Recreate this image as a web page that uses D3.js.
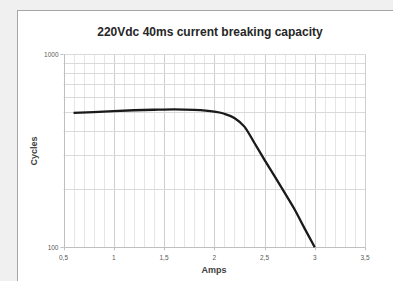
<!DOCTYPE html>
<html>
<head>
<meta charset="utf-8">
<script src="https://cdn.jsdelivr.net/npm/d3@7"></script>
<style>
body { margin: 0; background: #f0f0f0; }
svg { display: block; }
</style>
</head>
<body>
<div id="chart"></div>
<script>
// values
var amps = [0.6, 0.8, 1.0, 1.2, 1.4, 1.6, 1.8, 2.0, 2.1, 2.2, 2.3, 2.4, 2.5, 2.6, 2.7, 2.8, 2.9, 3.0];
var cycles = [497, 502, 508, 513, 516, 518, 515, 504, 492, 468, 422, 347, 284, 234, 192, 157, 125, 100];
var xTicks = [0.5, 1, 1.5, 2, 2.5, 3, 3.5];
var xTickLabels = ["0,5", "1", "1,5", "2", "2,5", "3", "3,5"];
var yTicks = [100, 1000];
var yGrid = [100, 200, 300, 400, 500, 600, 700, 800, 900, 1000];

var width = 393, height = 281;
var plotLeft = 63.5, plotRight = 365, plotTop = 54.3, plotBottom = 247.3;

var svg = d3.select("#chart").append("svg")
	.attr("width", width)
	.attr("height", height);

// white chart box
svg.append("rect")
	.attr("x", 17.5).attr("y", 10.5)
	.attr("width", width).attr("height", height)
	.attr("fill", "#ffffff")
	.attr("stroke", "#a6a6a6")
	.attr("stroke-width", 1);

var x = d3.scaleLinear().domain([0.5, 3.5]).range([plotLeft, plotRight]);
var y = d3.scaleLog().domain([100, 1000]).range([plotBottom, plotTop]);

// vertical grid every 0.1
var xMinor = d3.range(5, 36).map(function(d) { return d / 10; });
svg.selectAll(".vgrid")
	.data(xMinor)
	.enter()
	.append("line")
	.attr("class", "vgrid")
	.attr("x1", function(d) { return Math.round(x(d)) + 0.5; })
	.attr("x2", function(d) { return Math.round(x(d)) + 0.5; })
	.attr("y1", plotTop)
	.attr("y2", plotBottom)
	.attr("stroke", function(d) { return Math.abs(d * 2 - Math.round(d * 2)) < 1e-6 ? "#cfcfcf" : "#e6e6e6"; })
	.attr("stroke-width", 1);

// horizontal grid
svg.selectAll(".hgrid")
	.data(yGrid)
	.enter()
	.append("line")
	.attr("class", "hgrid")
	.attr("x1", plotLeft)
	.attr("x2", plotRight)
	.attr("y1", function(d) { return Math.round(y(d)) + 0.5; })
	.attr("y2", function(d) { return Math.round(y(d)) + 0.5; })
	.attr("stroke", "#dadada")
	.attr("stroke-width", 1);

// axes lines
svg.append("line")
	.attr("x1", plotLeft).attr("x2", plotRight)
	.attr("y1", Math.round(plotBottom) + 0.5).attr("y2", Math.round(plotBottom) + 0.5)
	.attr("stroke", "#bfbfbf");
svg.append("line")
	.attr("x1", Math.round(plotLeft) + 0.5).attr("x2", Math.round(plotLeft) + 0.5)
	.attr("y1", plotTop).attr("y2", plotBottom)
	.attr("stroke", "#bfbfbf");

// x ticks and labels
svg.selectAll(".xtick")
	.data(xTicks)
	.enter()
	.append("line")
	.attr("x1", function(d) { return Math.round(x(d)) + 0.5; })
	.attr("x2", function(d) { return Math.round(x(d)) + 0.5; })
	.attr("y1", plotBottom)
	.attr("y2", plotBottom + 3)
	.attr("stroke", "#bfbfbf");

svg.selectAll(".xlabel")
	.data(xTicks)
	.enter()
	.append("text")
	.attr("x", function(d) { return x(d); })
	.attr("y", 260)
	.attr("text-anchor", "middle")
	.attr("font-family", "Liberation Sans, Arial, sans-serif")
	.attr("font-size", 6.5)
	.attr("fill", "#595959")
	.text(function(d, i) { return xTickLabels[i]; });

// y ticks and labels
svg.selectAll(".ytick")
	.data(yTicks)
	.enter()
	.append("line")
	.attr("x1", plotLeft - 3)
	.attr("x2", plotLeft)
	.attr("y1", function(d) { return Math.round(y(d)) + 0.5; })
	.attr("y2", function(d) { return Math.round(y(d)) + 0.5; })
	.attr("stroke", "#bfbfbf");

svg.selectAll(".ylabel")
	.data(yTicks)
	.enter()
	.append("text")
	.attr("x", plotLeft - 5)
	.attr("y", function(d) { return y(d) + 2.3; })
	.attr("text-anchor", "end")
	.attr("font-family", "Liberation Sans, Arial, sans-serif")
	.attr("font-size", 6.5)
	.attr("fill", "#595959")
	.text(function(d) { return d; });

// the curve
var line = d3.line()
	.x(function(d, i) { return x(amps[i]); })
	.y(function(d) { return y(d); })
	.curve(d3.curveMonotoneX);

svg.append("path")
	.datum(cycles)
	.attr("d", line)
	.attr("fill", "none")
	.attr("stroke", "#1a1a1a")
	.attr("stroke-width", 2.3)
	.attr("stroke-linecap", "butt");

// titles
svg.append("text")
	.attr("x", 210)
	.attr("y", 35.5)
	.attr("text-anchor", "middle")
	.attr("font-family", "Liberation Sans, Arial, sans-serif")
	.attr("font-weight", "bold")
	.attr("font-size", 12)
	.attr("fill", "#262626")
	.text("220Vdc 40ms current breaking capacity");

svg.append("text")
	.attr("x", 214)
	.attr("y", 272.5)
	.attr("text-anchor", "middle")
	.attr("font-family", "Liberation Sans, Arial, sans-serif")
	.attr("font-weight", "bold")
	.attr("font-size", 9)
	.attr("fill", "#404040")
	.text("Amps");

svg.append("text")
	.attr("transform", "translate(37,151) rotate(-90)")
	.attr("text-anchor", "middle")
	.attr("font-family", "Liberation Sans, Arial, sans-serif")
	.attr("font-weight", "bold")
	.attr("font-size", 9)
	.attr("fill", "#404040")
	.text("Cycles");
</script>
</body>
</html>
